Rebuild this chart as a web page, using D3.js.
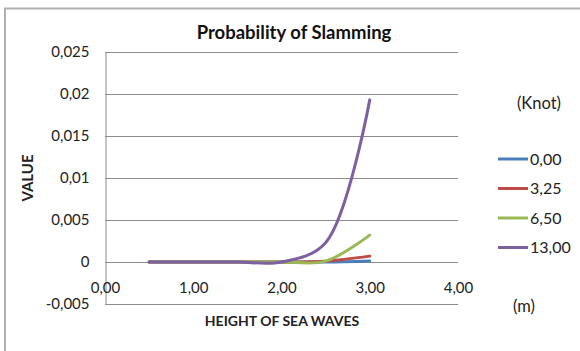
<!DOCTYPE html>
<html>
<head>
<meta charset="utf-8">
<script src="https://cdn.jsdelivr.net/npm/d3@7"></script>
<style>
  body { margin: 0; background: #fff; }
  svg { font-family: Lato, "Open Sans", sans-serif; }
</style>
</head>
<body>
<div id="chart"></div>
<script>
// data
var heights = [0.5, 1.0, 1.5, 2.0, 2.5, 3.0];
var speeds = ["0,00", "3,25", "6,50", "13,00"];
var s000 = [0, 0, 0, 0, 0, 0.00012];
var s325 = [0, 0, 0, 0, 0.0001, 0.0007];
var s650 = [0, 0, 0, 0, 0.0001, 0.0032];
var s1300 = [0, 0, 0, 0, 0.0023, 0.0193];
var colors = ["#4A7EBB", "#BE4B48", "#98B954", "#7D60A0"];
var yTicks = [-0.005, 0, 0.005, 0.01, 0.015, 0.02, 0.025];
var xTicks = [0, 1, 2, 3, 4];

var series = [s000, s325, s650, s1300];

var W = 580, H = 351;
var margin = {top: 52, left: 105, right: 122, bottom: 47};

var svg = d3.select("#chart").append("svg")
    .attr("width", W)
    .attr("height", H);

// outer frame (only left and top edges show)
svg.append("path")
    .attr("d", "M5," + H + "V8.5H" + W)
    .attr("fill", "none")
    .attr("stroke", "#b0b0b0")
    .attr("stroke-width", 2);

var x = d3.scaleLinear().domain([0, 4]).range([margin.left, W - margin.right]);
var y = d3.scaleLinear().domain([-0.005, 0.025]).range([H - margin.bottom, margin.top]);

var fmt = function(v) { return String(+v.toFixed(3)).replace(".", ","); };

// gridlines
svg.append("g")
  .selectAll("line")
  .data(yTicks)
  .enter()
  .append("line")
    .attr("x1", x(0))
    .attr("x2", x(4))
    .attr("y1", function(d) { return Math.round(y(d)) + 0.5; })
    .attr("y2", function(d) { return Math.round(y(d)) + 0.5; })
    .attr("stroke", "#8c8c8c")
    .attr("stroke-width", 1);

// y axis
var yAxis = svg.append("g")
    .attr("transform", "translate(" + (Math.round(x(0)) + 0.5) + ",0)")
    .call(d3.axisLeft(y).tickValues(yTicks).tickSize(0).tickPadding(16).tickFormat(fmt));
yAxis.select(".domain").attr("stroke", "#8c8c8c");
yAxis.selectAll("text").attr("font-size", 15).attr("fill", "#222").attr("font-family", "Lato");

// x axis labels sit under the zero line
var xAxis = svg.append("g")
    .attr("transform", "translate(0," + Math.round(y(0)) + ")")
    .call(d3.axisBottom(x).tickValues(xTicks).tickSize(0).tickPadding(20)
      .tickFormat(function(d) { return d.toFixed(2).replace(".", ","); }));
xAxis.select(".domain").remove();
xAxis.selectAll("text").attr("font-size", 15).attr("fill", "#222").attr("font-family", "Lato");

// smoothed lines (chord-length style, like the spreadsheet's smoothing)
var line = d3.line()
    .x(function(d, i) { return x(heights[i]); })
    .y(function(d) { return y(d); })
    .curve(d3.curveCatmullRom.alpha(0.5));

svg.append("g")
  .selectAll("path")
  .data(series)
  .enter()
  .append("path")
    .attr("d", line)
    .attr("fill", "none")
    .attr("stroke", function(d, i) { return colors[i]; })
    .attr("stroke-width", 3)
    .attr("stroke-linecap", "round");

// titles
svg.append("text")
    .attr("x", 294)
    .attr("y", 39)
    .attr("text-anchor", "middle")
    .attr("font-size", 18.5)
    .attr("font-weight", "bold")
    .attr("fill", "#111")
    .text("Probability of Slamming");

svg.append("text")
    .attr("transform", "translate(33,178)rotate(-90)")
    .attr("text-anchor", "middle")
    .attr("font-size", 15)
    .attr("font-weight", "bold")
    .attr("fill", "#222")
    .text("VALUE");

svg.append("text")
    .attr("x", 282)
    .attr("y", 326)
    .attr("text-anchor", "middle")
    .attr("font-size", 14)
    .attr("font-weight", "bold")
    .attr("fill", "#222")
    .text("HEIGHT OF SEA WAVES");

// legend
svg.append("text")
    .attr("x", 539)
    .attr("y", 109)
    .attr("text-anchor", "middle")
    .attr("font-size", 16.5)
    .attr("fill", "#222")
    .text("(Knot)");

var legend = svg.append("g")
  .selectAll("g")
  .data(speeds)
  .enter()
  .append("g")
    .attr("transform", function(d, i) { return "translate(498," + (159 + i * 29.5) + ")"; });
legend.append("line")
    .attr("x1", 0).attr("x2", 30)
    .attr("stroke", function(d, i) { return colors[i]; })
    .attr("stroke-width", 3);
legend.append("text")
    .attr("x", 32)
    .attr("dy", "0.35em")
    .attr("font-size", 16)
    .attr("fill", "#222")
    .text(function(d) { return d; });

svg.append("text")
    .attr("x", 524)
    .attr("y", 312)
    .attr("text-anchor", "middle")
    .attr("font-size", 16.5)
    .attr("fill", "#222")
    .text("(m)");
</script>
</body>
</html>
